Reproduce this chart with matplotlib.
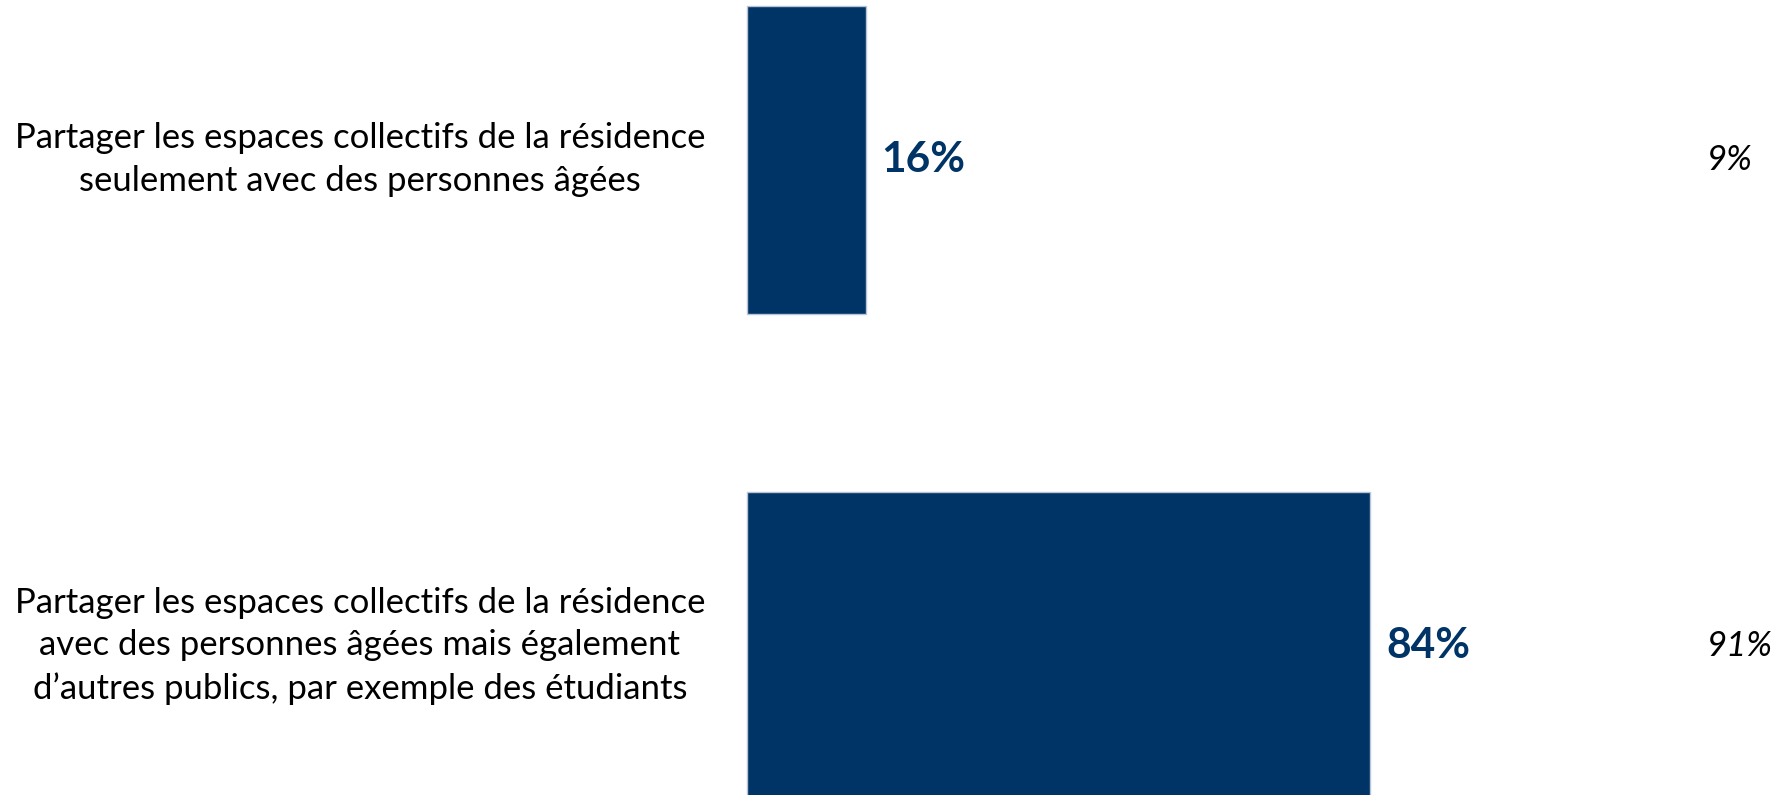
import matplotlib
matplotlib.use("Agg")
import matplotlib.pyplot as plt
from matplotlib import transforms

categories = [
    "Partager les espaces collectifs de la résidence\nseulement avec des personnes âgées",
    "Partager les espaces collectifs de la résidence\navec des personnes âgées mais également\nd\u2019autres publics, par exemple des étudiants",
]
values = [16, 84]
compare_values = [9, 91]

NAVY = "#003466"
FONT = ["Lato", "DejaVu Sans"]

fig = plt.figure(figsize=(17.8, 7.95), dpi=100)
ax = fig.add_axes([0, 0, 1, 1])
ax.set_xlim(-100.7, 139.2)
ax.set_ylim(1.3066, -0.329)
ax.axis("off")

pos = list(range(len(categories)))
ax.barh(pos, values, height=0.634, left=0, color=NAVY,
        edgecolor="#b8c4d6", linewidth=1.0)

renderer = fig.canvas.get_renderer()
blend = transforms.blended_transform_factory(ax.transAxes, ax.transData)

# category labels font size fitted to width of first line
probe = ax.text(0, 0, categories[0].split("\n")[0], fontsize=24, family=FONT)
bb = probe.get_window_extent(renderer=renderer)
cat_fs = 24 * 690 / bb.width
probe.remove()
for i, c in enumerate(categories):
    ax.text(0.2022, pos[i], c, transform=blend,
            ha="center", va="center", multialignment="center", fontsize=cat_fs,
            family=FONT, color="black", linespacing=1.42)

# value labels
probe = ax.text(0, 0, "16%", fontsize=30, family=FONT, fontweight="bold")
bb = probe.get_window_extent(renderer=renderer)
val_fs = 30 * 84 / bb.width
probe.remove()
for i, v in enumerate(values):
    ax.text(v + 2.1, pos[i], f"{v}%", ha="left", va="center",
            fontsize=val_fs, fontweight="bold", color=NAVY, family=FONT)

# comparison labels (italic, right side)
probe = ax.text(0, 0, "91%", fontsize=24, family=FONT, style="italic")
bb = probe.get_window_extent(renderer=renderer)
cmp_fs = 24 * 66 / bb.width
probe.remove()
for i, v in enumerate(compare_values):
    ax.text(0.959, pos[i], f"{v}%", transform=blend,
            ha="left", va="center", fontsize=cmp_fs, style="italic", color="black", family=FONT)

fig.savefig("out.png", dpi=100)
